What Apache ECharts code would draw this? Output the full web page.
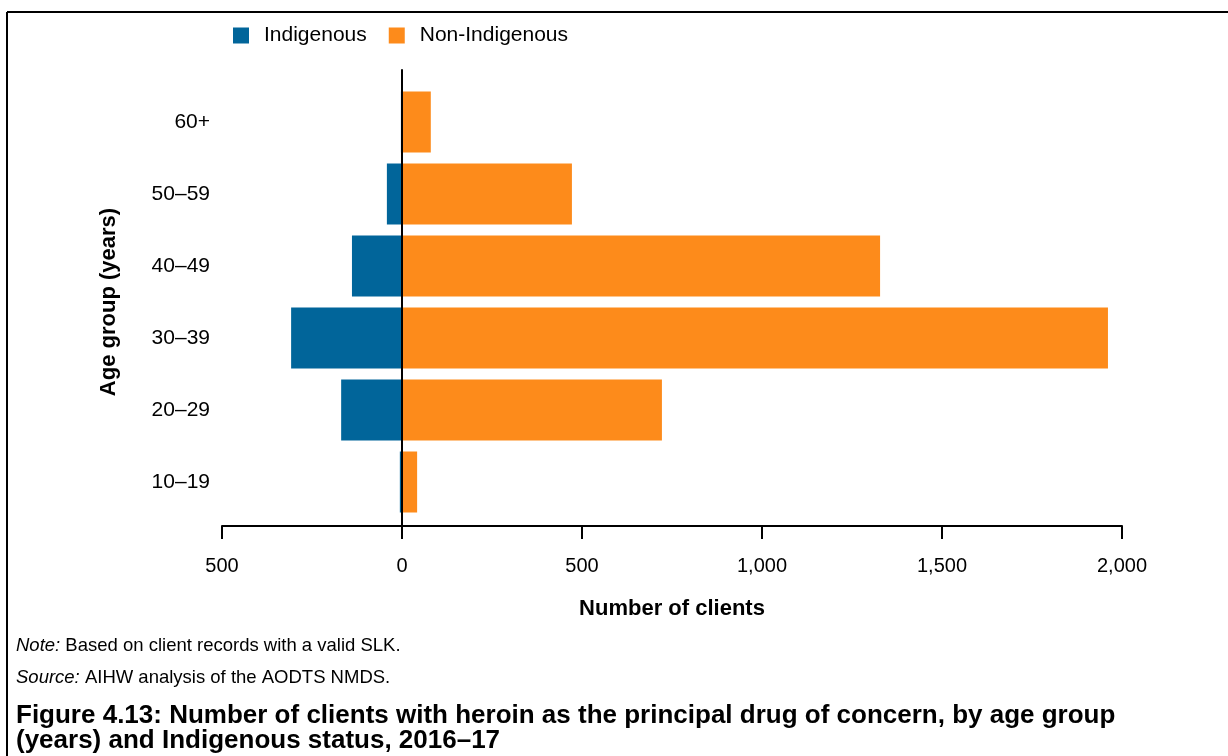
<!DOCTYPE html>
<html>
<head>
<meta charset="utf-8">
<script src="https://cdn.jsdelivr.net/npm/echarts@6/dist/echarts.min.js"></script>
<style>html,body{margin:0;padding:0;background:#fff}#c{width:1228px;height:756px}</style>
</head>
<body>
<div id="c"></div>
<script>
const categories = ['10–19', '20–29', '30–39', '40–49', '50–59', '60+'];
const indigenous = [6, 169, 308, 139, 42, 3];
const nonIndigenous = [42, 722, 1961, 1328, 472, 80];
const xTicks = [-500, 0, 500, 1000, 1500, 2000];

const FONT = '"Liberation Sans", Arial, sans-serif';
const fmt = v => Math.abs(v).toLocaleString('en-US');

const chart = echarts.init(document.getElementById('c'), null, {renderer: 'canvas'});
const option = {
  animation: false,
  textStyle: {fontFamily: FONT},
  legend: {
    left: 233, top: 25, padding: 0,
    itemWidth: 16, itemHeight: 16, itemGap: 22,
    icon: 'rect',
    textStyle: {fontSize: 21, color: '#000', fontFamily: FONT, padding: [2, 0, 0, 10]},
    data: ['Indigenous', 'Non-Indigenous']
  },
  grid: [
    {left: 222, right: 106, top: 86, bottom: 238},
    {left: 222, right: 106, top: 70, bottom: 230}
  ],
  xAxis: [
    {gridIndex: 0, type: 'value', min: xTicks[0], max: xTicks[xTicks.length - 1], interval: 500,
     show: false},
    {gridIndex: 1, type: 'value', min: xTicks[0], max: xTicks[xTicks.length - 1], interval: 500,
     axisLine: {show: true, onZero: false, lineStyle: {color: '#000', width: 2}},
     axisTick: {show: true, length: 13, lineStyle: {color: '#000', width: 2}},
     splitLine: {show: false},
     axisLabel: {formatter: fmt, fontSize: 20, color: '#000', margin: 30, fontFamily: FONT},
     name: 'Number of clients', nameLocation: 'middle', nameGap: 72,
     nameTextStyle: {fontSize: 22, fontWeight: 'bold', color: '#000', fontFamily: FONT}}
  ],
  yAxis: [
    {gridIndex: 0, type: 'category', data: categories,
     axisLine: {show: false}, axisTick: {show: false},
     axisLabel: {fontSize: 21, color: '#000', margin: 12, fontFamily: FONT},
     name: 'Age group (years)', nameLocation: 'middle', nameGap: 102, nameRotate: 90,
     nameTextStyle: {fontSize: 22, fontWeight: 'bold', color: '#000', fontFamily: FONT}},
    {gridIndex: 1, type: 'value', min: 0, max: 1, show: true, z: 10,
     axisLine: {show: true, onZero: true, lineStyle: {color: '#000', width: 2}},
     axisTick: {show: false}, axisLabel: {show: false}, splitLine: {show: false}}
  ],
  series: [
    {name: 'Indigenous', type: 'bar', xAxisIndex: 0, yAxisIndex: 0,
     data: indigenous.map(v => -v), barWidth: 61, barGap: '-100%',
     itemStyle: {color: '#01659a'}},
    {name: 'Non-Indigenous', type: 'bar', xAxisIndex: 0, yAxisIndex: 0,
     data: nonIndigenous, barWidth: 61, barGap: '-100%',
     itemStyle: {color: '#fd8b1b'}}
  ],
  graphic: [
    {type: 'line', shape: {x1: 7, y1: 12, x2: 1228, y2: 12}, style: {stroke: '#000', lineWidth: 2}},
    {type: 'line', shape: {x1: 7, y1: 12, x2: 7, y2: 756}, style: {stroke: '#000', lineWidth: 2}},
    {type: 'text', left: 16, top: 636, style: {
      text: '{i|Note:} Based on client records with a valid SLK.',
      rich: {i: {fontStyle: 'italic', fontSize: 18.5, fontFamily: FONT, fill: '#000'}},
      fontSize: 18.5, fontFamily: FONT, fill: '#000'}},
    {type: 'text', left: 16, top: 668, style: {
      text: '{i|Source:} AIHW analysis of the AODTS NMDS.',
      rich: {i: {fontStyle: 'italic', fontSize: 18.5, fontFamily: FONT, fill: '#000'}},
      fontSize: 18.5, fontFamily: FONT, fill: '#000'}},
    {type: 'text', left: 16, top: 703, style: {
      text: 'Figure 4.13: Number of clients with heroin as the principal drug of concern, by age group\n(years) and Indigenous status, 2016–17',
      fontSize: 26, fontWeight: 'bold', fontFamily: FONT, fill: '#000', lineHeight: 25}}
  ]
};
chart.setOption(option);
</script>
</body>
</html>
